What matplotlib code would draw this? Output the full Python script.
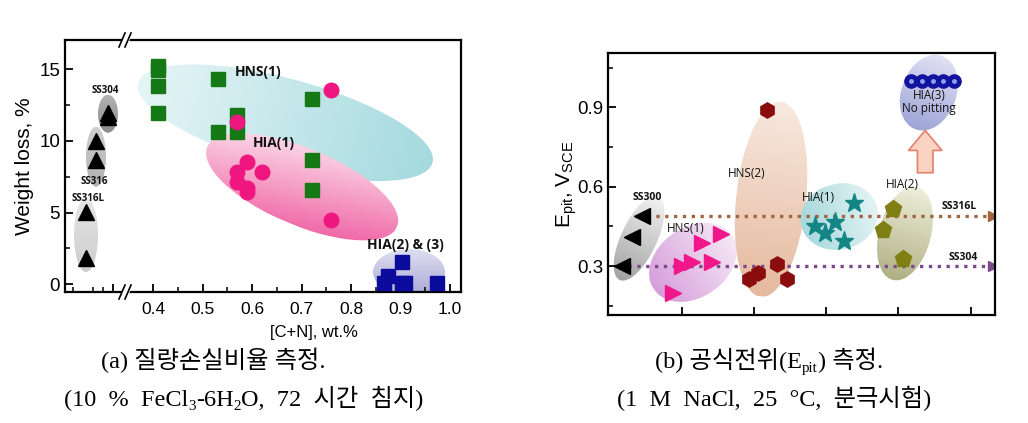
import numpy as np
import matplotlib
matplotlib.use('Agg')
import matplotlib.pyplot as plt
from matplotlib.patches import Circle
from matplotlib.transforms import Affine2D, ScaledTranslation
from matplotlib.colors import LinearSegmentedColormap

plt.rcParams['font.family'] = ['Liberation Sans', 'DejaVu Sans']
plt.rcParams['mathtext.default'] = 'regular'

# ---- (a) weight loss vs [C+N]
ss_pos = [2.1, 2.1, 3.1, 3.1, 4.3, 4.3]          # place inside the cut-off left part
ss_wl = [5.05, 1.8, 10.0, 8.7, 11.95, 11.65]
hns1_cn = [0.41, 0.41, 0.41, 0.41, 0.53, 0.53, 0.57, 0.57, 0.72, 0.72, 0.72]
hns1_wl = [15.25, 14.95, 13.85, 11.95, 14.3, 10.65, 11.8, 10.65, 12.9, 8.7, 6.6]
hia1_cn = [0.57, 0.76, 0.59, 0.57, 0.62, 0.57, 0.59, 0.59, 0.76]
hia1_wl = [11.35, 13.55, 8.5, 7.85, 7.8, 7.15, 6.7, 6.4, 4.45]
hia23_cn = [0.867, 0.874, 0.902, 0.902, 0.909, 0.973]
hia23_wl = [0.1, 0.6, 1.55, 0.1, 0.05, 0.05]

# ---- (b) pitting potential
ss300_x = [0.45, 0.31, 0.17]
ss300_e = [0.49, 0.41, 0.30]
hns1b_x = [0.88, 1.0, 1.14, 1.28, 1.415, 1.54]
hns1b_e = [0.20, 0.30, 0.315, 0.387, 0.315, 0.42]
hns2_x = [2.18, 1.93, 2.05, 2.32, 2.46]
hns2_e = [0.89, 0.25, 0.275, 0.307, 0.25]
hia1b_x = [3.39, 2.84, 2.98, 3.12, 3.25]
hia1b_e = [0.54, 0.45, 0.425, 0.467, 0.395]
hia2_x = [3.92, 3.78, 4.06]
hia2_e = [0.517, 0.435, 0.325]
hia3_x = [4.18, 4.33, 4.48, 4.62, 4.77]
hia3_e = [1.0, 1.0, 1.0, 1.0, 1.0]
ref_names = ['SS316L', 'SS304']
ref_e = [0.49, 0.30]
ref_start = [0.52, 0.26]
ref_end = 5.31
ref_cols = ['#a3653e', '#7d4b8c']

W, H = 1028, 423
fig = plt.figure(figsize=(W / 100, H / 100), dpi=100)


def blob(ax, x, y, w, h, ang, c1, c2, gdir=180, z=1):
    # ellipse with a linear colour gradient, size in pixels, centre in data units
    tr = Affine2D().scale(w / 2, h / 2).rotate_deg(ang) + ScaledTranslation(x, y, ax.transData)
    u, v = np.meshgrid(np.linspace(-1, 1, 80), np.linspace(1, -1, 80))
    g = np.deg2rad(gdir)
    t = np.clip((u * np.cos(g) + v * np.sin(g) + 1) / 2, 0, 1)
    cm = LinearSegmentedColormap.from_list('g', [c1, c2])
    im = ax.imshow(t, extent=(-1, 1, -1, 1), transform=tr, cmap=cm, vmin=0, vmax=1,
                   aspect='auto', zorder=z, interpolation='bilinear')
    im.set_clip_path(Circle((0, 0), 1, transform=tr))


def style(ax):
    for s in ax.spines.values():
        s.set_linewidth(1.6)
    ax.tick_params(direction='in', width=1.3, length=6, labelsize=12.5)
    ax.tick_params(which='minor', direction='in', width=1.1, length=3.5)


# ===== panel (a)
axl = fig.add_axes([65 / W, 1 - 292 / H, 60 / W, 252 / H])
axr = fig.add_axes([125 / W, 1 - 292 / H, 336 / W, 252 / H], sharey=axl)
for ax in (axl, axr):
    style(ax)
axl.spines['right'].set_visible(False)
axr.spines['left'].set_visible(False)
axr.tick_params(left=False, labelleft=False, which='both')
axl.set_xlim(0, 6)
axr.set_xlim(0.343, 1.022)
axl.set_ylim(-0.55, 17.05)
axl.set_yticks([0, 5, 10, 15])
axl.set_yticks([2.5, 7.5, 12.5], minor=True)
axl.set_xticks([4.8])
axl.set_xticks([0.8, 2.8, 3.8], minor=True)
axl.tick_params(labelbottom=False)
axr.set_xticks([0.4, 0.5, 0.6, 0.7, 0.8, 0.9, 1.0])
axr.set_xticklabels(['0.4', '0.5', '0.6', '0.7', '0.8', '0.9', '1.0'])
axr.set_xticks(np.arange(0.45, 1.0, 0.1), minor=True)
axl.tick_params(axis='y', labelsize=13.5)
axr.tick_params(axis='x', labelsize=12.5, pad=7)

blob(axl, 2.1, 3.43, 24, 74, 0, '#e6e6e6', '#cdcdcd', gdir=-90)
blob(axl, 3.1, 8.9, 20, 60, 0, '#cfcfcf', '#b0b0b0', gdir=-90)
blob(axl, 4.3, 11.9, 20, 38, 0, '#b2b2b2', '#8c8c8c', gdir=-90)
blob(axr, 0.667, 11.27, 305, 88, -15.2, '#e6f5f6', '#a4dadf', gdir=0)
blob(axr, 0.701, 6.79, 206, 77, -22.8, '#fbd6e6', '#f06aa8', gdir=-60, z=1.1)
blob(axr, 0.917, 0.84, 72, 46, 0, '#dedef1', '#a9a9d6', gdir=-90)

axl.plot(ss_pos, ss_wl, '^', color='black', ms=11, zorder=3, clip_on=False)
axr.plot(hns1_cn, hns1_wl, 's', color='#157a15', ms=10, zorder=3)
axr.plot(hia1_cn, hia1_wl, 'o', color='#ef177f', ms=10.5, zorder=3)
axr.plot(hia23_cn, hia23_wl, 's', color='#0b0b9c', ms=10, zorder=3, clip_on=False)

lab = dict(family=['Open Sans', 'Liberation Sans', 'DejaVu Sans'], ha='center',
           va='center', zorder=4, color='#111111')
axr.text(0.612, 14.84, 'HNS(1)', fontsize=10, fontweight='bold', **lab)
axr.text(0.644, 9.87, 'HIA(1)', fontsize=10, fontweight='bold', **lab)
axr.text(0.909, 2.73, 'HIA(2) & (3)', fontsize=10, fontweight='bold', **lab)
axl.text(4.0, 13.5, 'SS304', fontsize=7, fontweight='bold', **lab)
axl.text(2.9, 7.2, 'SS316', fontsize=7, fontweight='bold', **lab)
axl.text(2.3, 6.0, 'SS316L', fontsize=7, fontweight='bold', **lab)

axl.set_ylabel('Weight loss, %', fontsize=15, labelpad=4)
fig.text(314 / W, 1 - 332 / H, '[C+N], wt.%', fontsize=12, ha='center', va='center')

# break marks on top and bottom spines
bx, by = 1 / 336, 1 / 252
for yb in (0, 1):
    py = [yb - 7 * by, yb + 7 * by, yb + 7 * by, yb - 7 * by]
    axr.fill([-5 * bx, 1 * bx, 7 * bx, 1 * bx], py, color='white',
             transform=axr.transAxes, clip_on=False, zorder=5)
    for x0 in (-6 * bx, 0):
        axr.plot([x0, x0 + 6 * bx], [yb - 7 * by, yb + 7 * by], color='black', lw=1.2,
                 transform=axr.transAxes, clip_on=False, zorder=6)

# ===== panel (b)
axb = fig.add_axes([608.3 / W, 1 - 315 / H, 386.7 / W, 262 / H])
style(axb)
axb.set_xlim(-0.016, 5.336)
axb.set_ylim(0.115, 1.105)
axb.set_xticks([1, 2, 3, 4, 5])
axb.tick_params(labelbottom=False)
axb.set_yticks([0.3, 0.6, 0.9])
axb.set_yticklabels(['0.3', '0.6', '0.9'])
axb.set_yticks([0.15, 0.45, 0.75, 1.05], minor=True)
axb.tick_params(axis='y', labelsize=13.5)

blob(axb, 0.41, 0.405, 92, 36, 65, '#f2f2f2', '#a2a2a2')
blob(axb, 1.155, 0.314, 95, 70, 35, '#f6e8f6', '#d69fdb')
blob(axb, 2.236, 0.552, 196, 70, 84, '#f8e9e0', '#e5b99e')
blob(axb, 3.18, 0.487, 78, 66, 15, '#e3f3f4', '#a6d8dc')
blob(axb, 4.09, 0.423, 96, 52, 75, '#eeeedb', '#b0b084')
blob(axb, 4.42, 0.955, 78, 55, 70, '#e0e0f4', '#9ea5d6')

for name, e, x0, c in zip(ref_names, ref_e, ref_start, ref_cols):
    axb.plot([x0, ref_end], [e, e], ls=':', lw=2.4, color=c, zorder=2)
    axb.plot([ref_end], [e], '>', color=c, ms=7, zorder=2)

axb.annotate('', xy=(4.37, 0.823), xytext=(4.37, 0.642),
             arrowprops=dict(arrowstyle='simple,head_width=1.5,head_length=0.9,tail_width=0.7',
                             fc='#fbd3c3', ec='#e2806a', lw=1.2, mutation_scale=16))

axb.plot(ss300_x, ss300_e, '<', color='black', ms=11, zorder=3)
axb.plot(hns1b_x, hns1b_e, '>', color='#f0178a', ms=11, zorder=3)
axb.plot(hns2_x, hns2_e, 'h', color='#8a0c0c', ms=11, zorder=3)
axb.plot(hia1b_x, hia1b_e, '*', color='#138585', ms=14, zorder=3)
axb.plot(hia2_x, hia2_e, 'p', color='#7f7f14', ms=12.5, zorder=3)
axb.plot(hia3_x, hia3_e, 'o', color='#12129e', ms=9.5, zorder=3)
axb.plot(hia3_x, hia3_e, 'o', color='#8fa0ee', ms=2.5, zorder=3.1)

axb.text(0.52, 0.559, 'SS300', fontsize=7.5, fontweight='bold', **lab)
axb.text(1.06, 0.442, 'HNS(1)', fontsize=8.5, **lab)
axb.text(1.90, 0.65, 'HNS(2)', fontsize=8.5, **lab)
axb.text(2.89, 0.559, 'HIA(1)', fontsize=8.5, **lab)
axb.text(4.06, 0.608, 'HIA(2)', fontsize=8.5, **lab)
axb.text(4.84, 0.525, 'SS316L', fontsize=7.5, fontweight='bold', **lab)
axb.text(4.89, 0.333, 'SS304', fontsize=7.5, fontweight='bold', **lab)
axb.text(4.42, 0.92, 'HIA(3)\nNo pitting', fontsize=8.5, linespacing=1.0, **lab)

axb.set_ylabel('E$_{pit}$, V$_{SCE}$', fontsize=15, labelpad=-1)

# ===== captions
cap_fam = ['Liberation Serif', 'Noto Sans CJK KR', 'DejaVu Serif']
renderer = fig.canvas.get_renderer()


def caption(parts, xc, yb, size=17.5):
    texts = []
    for s, k, dy in parts:
        texts.append(fig.text(0, yb + dy / H, s, fontsize=size * k, family=cap_fam,
                              va='baseline'))
    ws = [t.get_window_extent(renderer).width for t in texts]
    x = xc - sum(ws) / 2
    for t, w in zip(texts, ws):
        t.set_x(x / W)
        x += w


caption([('(a) 질량손실비율 측정.', 1, 0)], 213, 1 - 368 / H)
caption([('(10  %  FeCl', 1, 0), ('3', 0.62, -4), ('-6H', 1, 0), ('2', 0.62, -4),
         ('O,  72  시간  침지)', 1, 0)], 244, 1 - 406 / H)
caption([('(b) 공식전위(E', 1, 0), ('pit', 0.62, -4), (') 측정.', 1, 0)], 769, 1 - 368 / H)
caption([('(1  M  NaCl,  25  °C,  분극시험)', 1, 0)], 774, 1 - 406 / H)

fig.savefig('out.png', dpi=100)
